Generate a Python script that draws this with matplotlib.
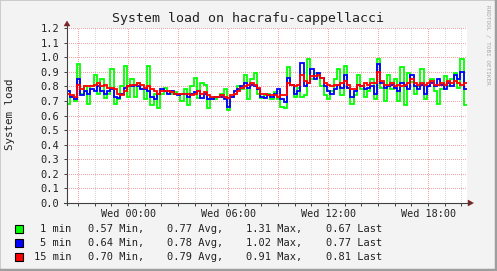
import matplotlib
matplotlib.use("Agg")
import matplotlib.pyplot as plt
from matplotlib.patches import Rectangle, Polygon
from matplotlib.lines import Line2D
import numpy as np

W, H, DPI = 497, 271, 100

title = "System load on hacrafu-cappellacci"
ylabel = "System load"
watermark = "RRDTOOL / TOBI OETIKER"

# time in hours relative to Wed 00:00
t_start = -3.6667
t_end = 20.3333
step_hours = 0.2
x_tick_hours = [0, 6, 12, 18]
x_tick_labels = ["Wed 00:00", "Wed 06:00", "Wed 12:00", "Wed 18:00"]
y_ticks = [0.0, 0.1, 0.2, 0.3, 0.4, 0.5, 0.6, 0.7, 0.8, 0.9, 1.0, 1.1, 1.2]

load_1min = [
    0.68, 0.73, 0.70, 0.95, 0.75, 0.80, 0.68, 0.80, 0.88, 0.75,
    0.85, 0.72, 0.75, 0.92, 0.68, 0.71, 0.80, 0.94, 0.73, 0.85,
    0.73, 0.82, 0.78, 0.71, 0.94, 0.67, 0.75, 0.65, 0.75, 0.79,
    0.77, 0.75, 0.76, 0.75, 0.70, 0.78, 0.67, 0.80, 0.86, 0.72,
    0.82, 0.81, 0.65, 0.72, 0.71, 0.73, 0.75, 0.78, 0.64, 0.73,
    0.75, 0.80, 0.78, 0.88, 0.71, 0.85, 0.89, 0.75,
    0.72, 0.74, 0.75, 0.71, 0.76, 0.71, 0.66, 0.65, 0.93, 0.81,
    0.73, 0.79, 0.73, 0.74, 0.99, 0.85, 0.89, 0.87, 0.80, 0.74,
    0.71, 0.77, 0.85, 0.92, 0.74, 0.94, 0.79, 0.68, 0.74, 0.88,
    0.78, 0.73, 0.77, 0.85, 0.71, 0.99, 0.79, 0.70, 0.88, 0.78,
    0.85, 0.70, 0.93, 0.67, 0.89, 0.83, 0.75, 0.80, 0.92, 0.71,
    0.80, 0.85, 0.77, 0.68, 0.78, 0.87, 0.80, 0.85, 0.89, 0.79,
    0.99, 0.67,
]
load_5min = [
    0.77, 0.73, 0.71, 0.85, 0.74, 0.77, 0.75, 0.78, 0.77, 0.80,
    0.77, 0.75, 0.77, 0.78, 0.73, 0.72, 0.75, 0.79, 0.80, 0.80,
    0.81, 0.80, 0.78, 0.78, 0.77, 0.73, 0.71, 0.75, 0.78, 0.77,
    0.75, 0.77, 0.75, 0.74, 0.75, 0.75, 0.73, 0.75, 0.76, 0.77,
    0.72, 0.75, 0.71, 0.71, 0.73, 0.73, 0.73, 0.71, 0.66, 0.73,
    0.77, 0.78, 0.80, 0.82, 0.79, 0.81, 0.80, 0.78,
    0.73, 0.72, 0.74, 0.73, 0.75, 0.78, 0.71, 0.69, 0.86, 0.81,
    0.75, 0.77, 0.96, 0.80, 0.82, 0.92, 0.85, 0.89, 0.86, 0.80,
    0.77, 0.75, 0.78, 0.81, 0.79, 0.88, 0.79, 0.73, 0.77, 0.81,
    0.80, 0.78, 0.79, 0.80, 0.75, 0.95, 0.82, 0.79, 0.80, 0.81,
    0.79, 0.77, 0.82, 0.80, 0.78, 0.88, 0.80, 0.78, 0.81, 0.75,
    0.80, 0.82, 0.80, 0.85, 0.81, 0.78, 0.82, 0.80, 0.88, 0.85,
    0.90, 0.78,
]
load_15min = [
    0.75, 0.74, 0.73, 0.81, 0.78, 0.80, 0.80, 0.80, 0.81, 0.82,
    0.80, 0.81, 0.79, 0.79, 0.78, 0.75, 0.74, 0.77, 0.80, 0.81,
    0.81, 0.82, 0.81, 0.79, 0.80, 0.78, 0.77, 0.75, 0.77, 0.77,
    0.77, 0.76, 0.75, 0.75, 0.75, 0.75, 0.75, 0.74, 0.75, 0.77,
    0.75, 0.76, 0.74, 0.73, 0.73, 0.73, 0.74, 0.73, 0.72, 0.74,
    0.75, 0.77, 0.79, 0.80, 0.81, 0.82, 0.81, 0.79,
    0.75, 0.75, 0.74, 0.74, 0.74, 0.73, 0.74, 0.74, 0.82, 0.81,
    0.80, 0.81, 0.88, 0.84, 0.82, 0.87, 0.87, 0.88, 0.86, 0.82,
    0.81, 0.80, 0.81, 0.81, 0.82, 0.84, 0.81, 0.78, 0.78, 0.81,
    0.80, 0.82, 0.81, 0.82, 0.82, 0.90, 0.84, 0.81, 0.81, 0.82,
    0.80, 0.81, 0.80, 0.81, 0.82, 0.85, 0.82, 0.81, 0.82, 0.81,
    0.82, 0.84, 0.81, 0.81, 0.82, 0.81, 0.84, 0.82, 0.84, 0.82,
    0.81, 0.82,
]

legend_names = ["1 min", "5 min", "15 min"]
legend_min = ["0.57", "0.64", "0.70"]
legend_avg = ["0.77", "0.78", "0.79"]
legend_max = ["1.31", "1.02", "0.91"]
legend_last = ["0.67", "0.77", "0.81"]
series_colors = ["#00FF00", "#0000FF", "#FF0000"]

MONO = "DejaVu Sans Mono"
plt.rcParams["font.family"] = MONO

fig = plt.figure(figsize=(W / DPI, H / DPI), dpi=DPI, facecolor="#F3F3F3")

def fx(x):
    return x / W

def fy(y):
    return 1 - y / H

# frame (3D style border)
fig.add_artist(Rectangle((0, 0), 1, 1, transform=fig.transFigure, facecolor="none",
                         edgecolor="#CBCBCB", lw=1.4))
fig.add_artist(Line2D([fx(0), fx(W)], [fy(H - 1), fy(H - 1)], transform=fig.transFigure,
                      color="#9E9E9E", lw=2.5))
fig.add_artist(Line2D([fx(W - 1), fx(W - 1)], [fy(0), fy(H)], transform=fig.transFigure,
                      color="#9E9E9E", lw=2.5))

ax_left, ax_right, ax_top, ax_bottom = 67, 467, 28, 203
ax = fig.add_axes([fx(ax_left), fy(ax_bottom), (ax_right - ax_left) / W, (ax_bottom - ax_top) / H])
ax.set_facecolor("white")
ax.set_xlim(t_start, t_end)
ax.set_ylim(0, 1.2)
for s in ax.spines.values():
    s.set_visible(False)

# grid (dotted, crisp)
for h in range(-3, 21):
    c = "#F4A4A4" if h % 3 == 0 else "#D8D8D8"
    ax.axvline(h, color=c, lw=0.72, dashes=(1, 2), zorder=0.5, antialiased=False)
for v in y_ticks[1:]:
    ax.axhline(v, color="#F4A4A4", lw=0.72, dashes=(1, 2), zorder=0.5, antialiased=False)

times = t_start + step_hours * np.arange(len(load_1min) + 1)
for vals, col in zip([load_1min, load_5min, load_15min], series_colors):
    yv = list(vals) + [vals[-1]]
    ax.step(times, yv, where="post", color=col, lw=1.3, zorder=2, solid_joinstyle="miter")

ax.set_yticks(y_ticks, labels=[f"{v:.1f}" for v in y_ticks])
ax.set_xticks(x_tick_hours, labels=x_tick_labels)
ax.set_xticks(range(-3, 21), minor=True)
ax.tick_params(axis="y", length=2, width=0.7, color="#404040", pad=3.6, labelsize=7.5,
               labelcolor="#222222")
ax.tick_params(axis="x", which="both", length=2, width=0.7, color="#404040", pad=2.2,
               labelsize=7.3, labelcolor="#222222")

# axis lines with arrows
axis_c = "#404040"
arrow_c = "#7F1F1F"
fig.add_artist(Line2D([fx(67), fx(67)], [fy(205), fy(25)], transform=fig.transFigure, color=axis_c, lw=0.8))
fig.add_artist(Line2D([fx(64), fx(470)], [fy(203), fy(203)], transform=fig.transFigure, color=axis_c, lw=0.8))
fig.add_artist(Polygon([[fx(64), fy(26)], [fx(70), fy(26)], [fx(67), fy(21)]], closed=True,
                       transform=fig.transFigure, facecolor=arrow_c, edgecolor=arrow_c, lw=0.3))
fig.add_artist(Polygon([[fx(468), fy(200)], [fx(468), fy(206)], [fx(473.5), fy(203)]], closed=True,
                       transform=fig.transFigure, facecolor=arrow_c, edgecolor=arrow_c, lw=0.3))

# title, ylabel, watermark
fig.text(fx(247.5), fy(18.5), title, ha="center", va="center", fontsize=9.5, color="#222222")
fig.text(fx(10), fy(114.5), ylabel, ha="center", va="center", rotation=90, fontsize=7.8, color="#222222")
fig.text(fx(487.5), fy(5), watermark, ha="center", va="top", rotation=270, fontsize=4.3, color="#A8A8A8")

# legend
rows_y = [229, 243, 257]
for i, yrow in enumerate(rows_y):
    fig.add_artist(Rectangle((fx(15), fy(yrow + 4)), 8 / W, 8 / H, transform=fig.transFigure,
                             facecolor=series_colors[i], edgecolor="black", lw=0.8))
    fig.text(fx(71.5), fy(yrow), legend_names[i], ha="right", va="center", fontsize=7.5, color="#222222")
    fig.text(fx(88), fy(yrow), f"{legend_min[i]} Min,", ha="left", va="center", fontsize=7.5, color="#222222")
    fig.text(fx(167), fy(yrow), f"{legend_avg[i]} Avg,", ha="left", va="center", fontsize=7.5, color="#222222")
    fig.text(fx(246), fy(yrow), f"{legend_max[i]} Max,", ha="left", va="center", fontsize=7.5, color="#222222")
    fig.text(fx(326), fy(yrow), f"{legend_last[i]} Last", ha="left", va="center", fontsize=7.5, color="#222222")

fig.savefig("out.png", dpi=DPI, facecolor=fig.get_facecolor())
